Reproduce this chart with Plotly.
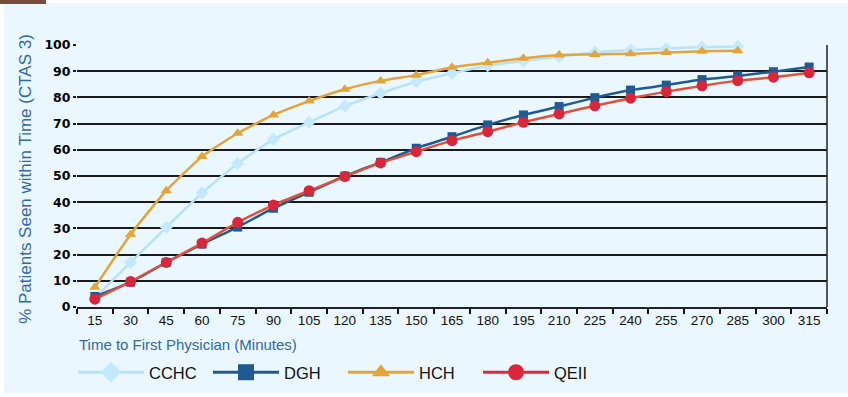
import plotly.graph_objects as go

minutes = [15, 30, 45, 60, 75, 90, 105, 120, 135, 150, 165, 180, 195, 210, 225, 240, 255, 270, 285, 300, 315]
categories = [str(m) for m in minutes]

cchc = [3.5, 17.0, 30.4, 43.5, 54.8, 64.0, 70.5, 76.7, 81.6, 86.0, 89.2, 92.1, 93.9, 95.5, 97.2, 98.1, 98.7, 99.1, 99.4, None, None]
dgh = [4.0, 9.5, 17.0, 24.0, 30.5, 37.7, 43.8, 50.0, 55.2, 60.6, 65.0, 69.5, 73.3, 76.5, 79.9, 82.8, 84.7, 86.8, 88.2, 89.8, 91.6]
hch = [7.5, 27.7, 44.4, 57.4, 66.3, 73.3, 78.6, 83.1, 86.3, 88.5, 91.5, 93.2, 94.9, 96.2, 96.4, 96.7, 97.1, 97.6, 97.8, None, None]
qeii = [3.0, 9.7, 17.0, 24.4, 32.3, 38.9, 44.4, 49.8, 55.0, 59.3, 63.5, 66.9, 70.5, 73.7, 76.8, 79.7, 82.2, 84.4, 86.4, 87.7, 89.4]

series_names = ["CCHC", "DGH", "HCH", "QEII"]
series_values = [cchc, dgh, hch, qeii]
line_colors = ["#b8e2f8", "#1f5b92", "#e3a43a", "#e2503a"]
marker_colors = ["#c4e9fc", "#1f5b92", "#e3a43a", "#d9263b"]
legend_line_colors = ["#b8e2f8", "#1f5b92", "#e3a43a", "#e0283b"]
symbols = ["diamond", "square", "triangle-up", "circle"]
marker_sizes = [10, 9, 10, 11]

TARGET_MINUTES = "30"
TARGET_PCT = 90

y_ticks = list(range(0, 101, 10))

fig = go.Figure()

for name, vals, lc, mc, sym, ms in zip(series_names, series_values, line_colors, marker_colors, symbols, marker_sizes):
    fig.add_trace(go.Scatter(
        x=categories, y=vals, mode="lines+markers", name=name, showlegend=False,
        line=dict(color=lc, width=2.5, shape="spline", smoothing=0.5),
        marker=dict(symbol=sym, size=ms, color=mc),
        cliponaxis=False,
    ))

for name, lc, mc, sym in zip(series_names, legend_line_colors, marker_colors, symbols):
    fig.add_trace(go.Scatter(
        x=[None], y=[None], mode="lines+markers", name=name, showlegend=True,
        line=dict(color=lc, width=3),
        marker=dict(symbol=sym, size=16, color=mc),
    ))

# target lines
fig.add_shape(type="line", xref="x", yref="paper", x0=TARGET_MINUTES, x1=TARGET_MINUTES, y0=0, y1=1,
              line=dict(color="#d5e7c2", width=4), layer="between")
fig.add_shape(type="line", xref="paper", yref="y", x0=0, x1=1, y0=TARGET_PCT, y1=TARGET_PCT,
              line=dict(color="#d5e7c2", width=4), layer="between")
# right border
fig.add_shape(type="line", xref="paper", yref="paper", x0=1, x1=1, y0=0, y1=1,
              line=dict(color="#222222", width=1.5), layer="above")
# page decorations
fig.add_shape(type="rect", xref="paper", yref="paper", x0=-73/750, x1=1 + 21/750, y0=-86/262, y1=1 + 42/262,
              fillcolor="#eaf7fe", line=dict(width=0), layer="below")
fig.add_shape(type="rect", xref="paper", yref="paper", x0=-77/750, x1=-31/750, y0=1 + 41/262, y1=1 + 45/262,
              fillcolor="#7b4a3a", line=dict(width=0), layer="below")

fig.update_layout(
    width=848, height=397,
    margin=dict(l=77, r=21, t=45, b=90, autoexpand=False),
    paper_bgcolor="#ffffff",
    plot_bgcolor="#bcc0bf",
    font=dict(family="Liberation Sans, Arial", color="#111111"),
    xaxis=dict(
        type="category", categoryorder="array", categoryarray=categories,
        range=[-0.5, len(categories) - 0.5],
        tickson="boundaries", ticks="outside", ticklen=5, tickcolor="#111111", tickwidth=1.5,
        showgrid=False, showline=True, linecolor="#222222", linewidth=1.5,
        tickfont=dict(family="Liberation Sans Narrow, Liberation Sans", size=13.5, color="#111111"),
    ),
    yaxis=dict(
        range=[0, 100], tickvals=y_ticks, showgrid=True, gridcolor="#1a1a1a", gridwidth=1.5,
        zeroline=False, showline=False, ticks="outside", ticklen=3, tickcolor="#1a1a1a", tickwidth=1.5,
        tickfont=dict(family="DejaVu Sans", size=12.5, color="#000000", weight="bold"),
    ),
    legend=dict(
        orientation="h", x=-4/750, xanchor="left", y=-0.25, yanchor="middle",
        font=dict(family="Liberation Sans", size=16.5, color="#111111"),
        itemwidth=66, bgcolor="rgba(0,0,0,0)", tracegroupgap=0,
        entrywidth=54, entrywidthmode="pixels",
    ),
    annotations=[
        dict(text="Time to First Physician (Minutes)", xref="paper", yref="paper", x=0, y=-0.145,
             xanchor="left", yanchor="middle", showarrow=False,
             font=dict(family="Liberation Sans", size=15, color="#2f6aa6")),
        dict(text="% Patients Seen within Time (CTAS 3)", xref="paper", yref="paper", x=-0.069, y=0.49,
             xanchor="center", yanchor="middle", textangle=-90, showarrow=False,
             font=dict(family="Liberation Sans", size=17, color="#2f6aa6")),
    ],
)

fig.write_html("out.html", config={"displayModeBar": False})

with open("out.html", "r", encoding="utf-8") as f:
    html = f.read()
html = html.replace("<head>", "<head><style>html,body{margin:0;padding:0;overflow:hidden;}</style>", 1)
with open("out.html", "w", encoding="utf-8") as f:
    f.write(html)
